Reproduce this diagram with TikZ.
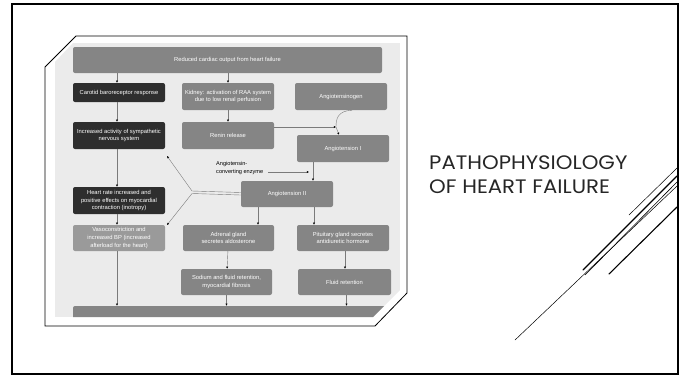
\documentclass[tikz,border=0pt]{standalone}
\usepackage{fontspec}
\setmainfont{Liberation Sans}
\newfontfamily\titlefont[FakeStretch=1.09]{Poppins}
\usepackage{xcolor}
\usetikzlibrary{arrows.meta}

\definecolor{boxgrey}{HTML}{858585}
\definecolor{boxlight}{HTML}{9A9A9A}
\definecolor{boxdark}{HTML}{2E2E2E}
\definecolor{imggrey}{HTML}{EBEBEB}
\definecolor{linegrey}{HTML}{7A7A7A}

\begin{document}
\begin{tikzpicture}[x=1pt, y=-1pt,
    box/.style={rounded corners=2pt, fill=boxgrey, text=white, align=center,
        inner sep=1pt, font=\fontsize{5.8}{7.6}\selectfont},
    darkbox/.style={box, fill=boxdark},
    lightbox/.style={box, fill=boxlight},
    arr/.style={draw=linegrey, line width=0.4pt, -{Latex[length=2.2pt,width=2.2pt,color=black]}},
    deco/.style={black, line cap=round}]
    \useasboundingbox (0,0) rectangle (685,376);
    % slide frame
    \draw[line width=2.6pt] (12,4) rectangle (678,374);
    % picture mat
    \draw[fill=white, line width=0.8pt] (76,36) -- (407,36) -- (407,293) -- (375,326)
        -- (45,326) -- (45,67) -- cycle;
    \begin{scope}
    \clip (73,43) -- (400,43) -- (400,290) -- (373,317) -- (55,317) -- (55,62) -- cycle;
    \fill[imggrey] (55,43) rectangle (400,317);
    % boxes
    \node[box, minimum width=309, minimum height=26] (output) at (227.5,60) {Reduced cardiac output from heart failure};
    \node[darkbox, minimum width=92, minimum height=19] (carotid) at (119,92.5) {Carotid baroreceptor response};
    \node[box, minimum width=92, minimum height=27] (kidney) at (228,96.5) {Kidney: activation of RAA system\\due to low renal perfusion};
    \node[box, minimum width=92, minimum height=27] (ogen) at (341,96.5) {Angiotensinogen};
    \node[darkbox, minimum width=92, minimum height=27] (symp) at (119,135.5) {Increased activity of sympathetic\\nervous system};
    \node[box, minimum width=92, minimum height=27] (renin) at (228,135.5) {Renin release};
    \node[box, minimum width=92, minimum height=27] (ang1) at (343,148.5) {Angiotension I};
    \node[box, minimum width=92, minimum height=26] (ang2) at (287,194) {Angiotension II};
    \node[darkbox, minimum width=92, minimum height=27] (heart) at (119,200.5) {Heart rate increased and\\positive effects on myocardial\\contraction (inotropy)};
    \node[lightbox, minimum width=92, minimum height=26] (vaso) at (119,238) {Vasoconstriction and\\increased BP (increased\\afterload for the heart)};
    \node[box, minimum width=91, minimum height=26] (adrenal) at (228.5,238) {Adrenal gland\\secretes aldosterone};
    \node[box, minimum width=92, minimum height=26] (pituitary) at (343,238) {Pituitary gland secretes\\antidiuretic hormone};
    \node[box, minimum width=91, minimum height=26] (sodium) at (226.5,282) {Sodium and fluid retention,\\myocardial fibrosis};
    \node[box, minimum width=93, minimum height=26] (fluid) at (344.5,282) {Fluid retention};
    \node[box, minimum width=330, minimum height=26] (bottom) at (238,319) {};
    \node[align=left, inner sep=0pt, anchor=west, font=\fontsize{5.6}{7.4}\selectfont] (ace) at (216,168) {Angiotensin-\\converting enzyme};
    % connectors
    \coordinate (meet) at (336,127);
    \coordinate (aceend) at (309,172);
    \coordinate (fork1) at (192,191);
    \coordinate (fork2) at (192,193.5);
    \coordinate (tipup) at (167,156);
    \coordinate (tipdown) at (167,225);
    \draw[arr] ([xshift=-2pt]output.south -| carotid) -- ([xshift=-2pt]carotid.north);
    \draw[arr] (output.south -| kidney) -- (kidney.north);
    \draw[arr] ([xshift=-2pt]carotid.south) -- ([xshift=-2pt]symp.north);
    \draw[arr] (kidney) -- (renin);
    \draw[arr] ([yshift=8.5pt]renin.east) -- (meet);
    \draw[arr] ([xshift=11pt]ogen.south) .. controls (338,111) and (336,118) .. (meet)
        -- ([xshift=-4pt]ang1.north);
    \draw[arr] ([xshift=5pt,yshift=-4pt]ace.east) -- (aceend);
    \draw[arr] ([xshift=-30pt]ang1.south) -- ([xshift=-30pt]ang1.south |- ang2.north);
    \draw[arr] ([yshift=1.5pt]ang2.west) -- (fork1) -- (tipup);
    \draw[arr] ([yshift=-1pt]ang2.west) -- (fork2) -- (tipdown);
    \draw[arr] ([xshift=-2pt]symp.south) -- ([xshift=-2pt]heart.north);
    \draw[arr] ([xshift=-2pt]heart.south) -- ([xshift=-2pt]vaso.north);
    \draw[arr] ([xshift=-29pt]ang2.south) -- ([xshift=-29pt]ang2.south |- adrenal.north);
    \draw[arr] ([xshift=27pt]ang2.south) -- ([xshift=27pt]ang2.south |- pituitary.north);
    \draw[arr] (adrenal) -- (sodium);
    \draw[arr] ([xshift=2pt]pituitary.south) -- ([xshift=2pt]pituitary.south |- fluid.north);
    \draw[arr] ([xshift=-2pt]vaso.south) -- ([xshift=-2pt]vaso.south |- bottom.north);
    \draw[arr] (sodium.south) -- (sodium.south |- bottom.north);
    \draw[arr] ([xshift=2pt]fluid.south) -- ([xshift=2pt]fluid.south |- bottom.north);
    \end{scope}
    % title
    \node[anchor=north west, align=left, inner sep=0pt, text=black!85,
        font=\titlefont\fontsize{19.5}{24}\selectfont] (title) at (429,156) {PATHOPHYSIOLOGY\\OF HEART FAILURE};
    % decorative lines
    \draw[deco, line width=0.5pt] (629,215) -- (677,168);
    \draw[deco, line width=1.3pt] (583,270) -- (677,176);
    \draw[deco, line width=0.6pt] (585,275) -- (677,182);
    \draw[deco, line width=0.5pt] (515,340) -- (677,186);
    \draw[deco, line width=1.1pt] (609,274) -- (677,207);
\end{tikzpicture}
\end{document}
